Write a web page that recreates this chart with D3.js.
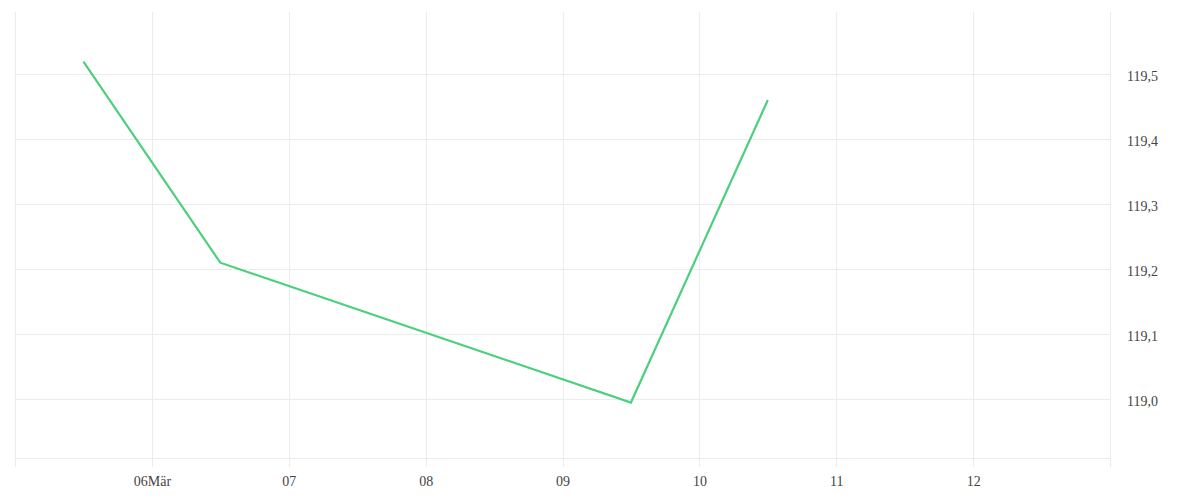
<!DOCTYPE html>
<html>
<head>
<meta charset="utf-8">
<script src="https://cdn.jsdelivr.net/npm/d3@7"></script>
<style>
  html, body { margin: 0; padding: 0; background: #fff; }
  .grid line { stroke: #ececec; stroke-width: 1; shape-rendering: crispEdges; }
</style>
</head>
<body>
<div class="page"></div>
<script>
var dates = ['2020-03-05T12:00', '2020-03-06T12:00', '2020-03-09T12:00', '2020-03-10T12:00'];
var values = [119.519, 119.21, 118.995, 119.46];

var xTickDates = ['2020-03-06', '2020-03-07', '2020-03-08', '2020-03-09', '2020-03-10', '2020-03-11', '2020-03-12'];
var xTickLabels = ['06Mär', '07', '08', '09', '10', '11', '12'];
var yTicks = [119.0, 119.1, 119.2, 119.3, 119.4, 119.5];

var W = 1200, H = 500,
    plot = {left: 15, right: 1110, top: 12, bottom: 458};

var parse = d3.timeParse('%Y-%m-%dT%H:%M');
var parseDay = d3.timeParse('%Y-%m-%d');
var data = dates.map(function(d, i) { return {t: parse(d), v: values[i]}; });

var x = d3.scaleTime()
  .domain([parseDay('2020-03-05'), parseDay('2020-03-13')])
  .range([plot.left, plot.right]);

var y = d3.scaleLinear()
  .domain([118.9097, 119.5954])
  .range([plot.bottom, plot.top]);

var svg = d3.select('.page').append('svg')
  .attr('width', W)
  .attr('height', H);

var grid = svg.append('g').attr('class', 'grid');

// vertical day lines (run a bit below the plot like ticks)
grid.selectAll('line.v').data(d3.timeDay.range(x.domain()[0], d3.timeDay.offset(x.domain()[1], 1)))
  .enter().append('line')
  .attr('class', 'v')
  .attr('x1', function(d) { return Math.round(x(d)) + 0.5; })
  .attr('x2', function(d) { return Math.round(x(d)) + 0.5; })
  .attr('y1', plot.top)
  .attr('y2', plot.bottom + 9);

grid.selectAll('line.h').data(yTicks)
  .enter().append('line')
  .attr('class', 'h')
  .attr('x1', plot.left)
  .attr('x2', plot.right)
  .attr('y1', function(d) { return Math.round(y(d)) + 0.5; })
  .attr('y2', function(d) { return Math.round(y(d)) + 0.5; });

grid.append('line')
  .attr('x1', plot.left)
  .attr('x2', plot.right)
  .attr('y1', plot.bottom + 0.5)
  .attr('y2', plot.bottom + 0.5);

// right axis labels
var yAxis = d3.axisRight(y)
  .tickValues(yTicks)
  .tickSize(0)
  .tickPadding(17)
  .tickFormat(function(d) { return d3.format('.1f')(d).replace('.', ','); });

svg.append('g')
  .attr('transform', 'translate(' + plot.right + ',2)')
  .call(yAxis)
  .attr('font-family', "'Liberation Serif', 'DejaVu Serif', serif")
  .attr('font-size', 14)
  .call(function(g) { g.select('.domain').remove(); })
  .selectAll('text')
  .attr('fill', '#444');

// bottom axis labels
var xAxis = d3.axisBottom(x)
  .tickValues(xTickDates.map(parseDay))
  .tickSize(0)
  .tickPadding(18)
  .tickFormat(function(d, i) { return xTickLabels[i]; });

svg.append('g')
  .attr('transform', 'translate(0,' + plot.bottom + ')')
  .call(xAxis)
  .attr('font-family', "'Liberation Serif', 'DejaVu Serif', serif")
  .attr('font-size', 14)
  .call(function(g) { g.select('.domain').remove(); })
  .selectAll('text')
  .attr('fill', '#444');

var line = d3.line()
  .x(function(d) { return x(d.t); })
  .y(function(d) { return y(d.v); });

svg.append('path')
  .datum(data)
  .attr('d', line)
  .attr('fill', 'none')
  .attr('stroke', '#4cd07d')
  .attr('stroke-width', 2.2)
  .attr('stroke-linejoin', 'miter');
</script>
</body>
</html>
